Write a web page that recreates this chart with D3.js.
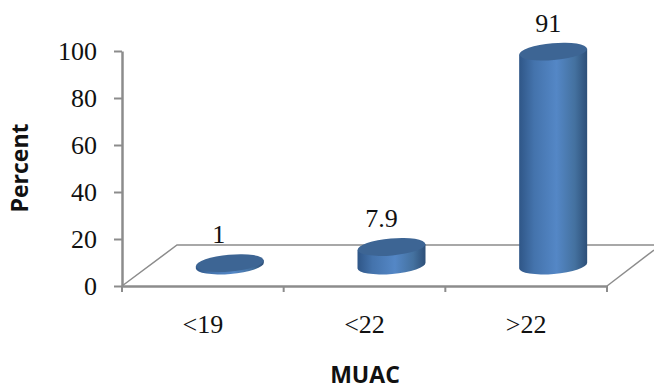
<!DOCTYPE html>
<meta charset="utf-8">
<script src="https://d3js.org/d3.v7.min.js"></script>
<style>
  body { margin: 0; background: white; }
  svg { display: block; }
  .num { font-family: "Liberation Serif", serif; font-size: 26px; fill: #111; }
  .title { font-family: "Open Sans", "Liberation Sans", sans-serif; font-size: 23px; font-weight: 700; fill: #111; }
</style>
<div id="chart"></div>
<script>
  // values
  const categories = ["<19", "<22", ">22"];
  const percents = [1, 7.9, 91];
  const percentLabels = ["1", "7.9", "91"];
  const yTicks = [0, 20, 40, 60, 80, 100];
  const labelNudge = [-11, -10, -5];

  const width = 654, height = 389;
  const svg = d3.select("#chart").append("svg")
    .attr("width", width).attr("height", height);

  // front edge of the floor and the axis
  const x = d3.scaleBand().domain(categories).range([122, 607]);
  const y = d3.scaleLinear().domain([0, 100]).range([286, 51]);

  const depthX = 55, depthY = 41;   // how far the back wall sits from the front
  const barShiftX = 27, barShiftY = 20.5;
  const rx = 34, ry = 8.5, tilt = -5;
  const dy = rx * Math.sin(tilt * Math.PI / 180);

  const defs = svg.append("defs");
  const side = defs.append("linearGradient").attr("id", "side");
  side.append("stop").attr("offset", "0%").attr("stop-color", "#2f5687");
  side.append("stop").attr("offset", "22%").attr("stop-color", "#4473ac");
  side.append("stop").attr("offset", "55%").attr("stop-color", "#5487c6");
  side.append("stop").attr("offset", "82%").attr("stop-color", "#44719f");
  side.append("stop").attr("offset", "100%").attr("stop-color", "#2d4f78");

  // floor
  const floor = svg.append("g").attr("fill", "none").attr("stroke", "#8c8c8c");
  floor.append("path").attr("stroke-width", 1.5)
    .attr("d", d3.line()([
      [x.range()[0], y(0)],
      [x.range()[0] + depthX, y(0) - depthY],
      [width, y(0) - depthY]
    ]));
  floor.append("path").attr("stroke-width", 1.5)
    .attr("d", d3.line()([
      [x.range()[1], y(0)],
      [x.range()[1] + 47, y(0) - 36]
    ]));

  // axes
  const yAxis = svg.append("g")
    .attr("transform", `translate(${x.range()[0]},0)`)
    .call(d3.axisLeft(y).tickValues(yTicks).tickSize(8).tickPadding(17).tickSizeOuter(0));
  const xAxis = svg.append("g")
    .attr("transform", `translate(0,${y(0)})`)
    .call(d3.axisBottom(x).tickSize(0).tickPadding(29));

  xAxis.selectAll("text").attr("class", "num");
  xAxis.selectAll(".bound")
    .data(categories.map(c => x(c)).concat(x.range()[1]))
    .join("line")
      .attr("x1", d => d).attr("x2", d => d)
      .attr("y1", 0).attr("y2", 6)
      .attr("stroke", "#8c8c8c").attr("stroke-width", 2);

  yAxis.selectAll("text").attr("class", "num");
  svg.selectAll(".domain").attr("stroke", "#8c8c8c").attr("stroke-width", 2.5);
  yAxis.selectAll(".tick line").attr("stroke", "#8c8c8c").attr("stroke-width", 2);

  // cylinders
  const cx = d => x(d.cat) + x.bandwidth() / 2 + barShiftX;
  const baseY = y(0) - barShiftY;
  const topY = d => y(d.val) - barShiftY;
  const rows = categories.map((cat, i) => ({ cat, val: percents[i], label: percentLabels[i], nudge: labelNudge[i] }));

  const bars = svg.append("g").selectAll("g").data(rows).join("g");
  bars.append("path")
    .attr("fill", "url(#side)")
    .attr("d", d => {
      const l = cx(d) - rx, r = cx(d) + rx;
      return `M${l},${topY(d) - dy}L${l},${baseY - dy}` +
        `A${rx},${ry} ${tilt} 0 0 ${r},${baseY + dy}` +
        `L${r},${topY(d) + dy}Z`;
    });
  bars.append("ellipse")
    .attr("rx", rx).attr("ry", ry)
    .attr("fill", "#3d6594")
    .attr("transform", d => `translate(${cx(d)},${topY(d)}) rotate(${tilt})`);

  // value labels
  bars.append("text")
    .attr("class", "num")
    .attr("text-anchor", "middle")
    .attr("x", d => cx(d) + d.nudge)
    .attr("y", d => topY(d) - ry - 11.5)
    .text(d => d.label);

  svg.append("text").attr("class", "title")
    .attr("text-anchor", "middle")
    .attr("x", 365).attr("y", 383)
    .text("MUAC");

  svg.append("text").attr("class", "title")
    .attr("text-anchor", "middle")
    .attr("transform", "translate(28,168) rotate(-90)")
    .text("Percent");
</script>
